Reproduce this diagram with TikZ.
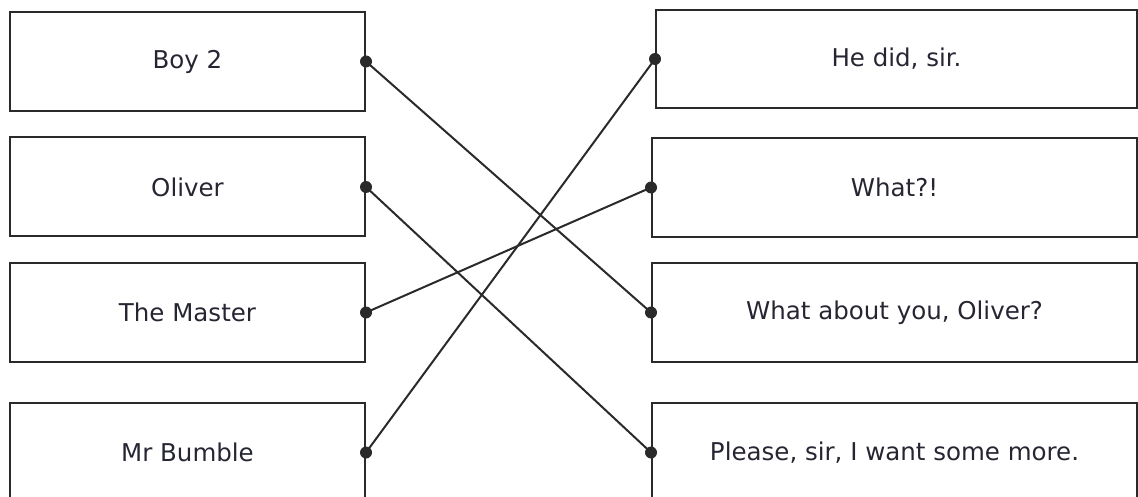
\documentclass[tikz,border=0pt]{standalone}
\usepackage{fontspec}
\setmainfont{DejaVu Sans}
\definecolor{ink}{HTML}{2A2A2A}
\definecolor{words}{HTML}{262633}
\tikzset{
  card/.style={draw=ink,line width=2pt,rectangle,minimum height=99pt,
    text=words,font=\fontsize{24.5}{29}\selectfont,inner sep=0pt},
  link/.style={draw=ink,line width=2pt},
  dot/.style={fill=ink,circle,inner sep=0pt,minimum size=12pt}
}
\begin{document}
\begin{tikzpicture}[x=1pt,y=-1pt]
\useasboundingbox (0,0) rectangle (1138,497);
\clip (0,0) rectangle (1138,497);
% speakers
\node[card,minimum width=355pt] (boy) at (187.5,61.5) {Boy 2};
\node[card,minimum width=355pt] (oliver) at (187.5,187) {Oliver};
\node[card,minimum width=355pt] (master) at (187.5,312.5) {The Master};
\node[card,minimum width=355pt] (bumble) at (187.5,452.5) {Mr Bumble};
% lines
\node[card,minimum width=481pt,minimum height=98pt] (did) at (896.5,59) {He did, sir.};
\node[card,minimum width=485pt] (what) at (894.5,187.5) {What?!};
\node[card,minimum width=485pt] (about) at (894.5,312.5) {What about you, Oliver?};
\node[card,minimum width=485pt] (please) at (894.5,452.5) {Please, sir, I want some more.};
% matching
\draw[link] (boy.east) -- (about.west);
\draw[link] (oliver.east) -- (please.west);
\draw[link] (master.east) -- (what.west);
\draw[link] (bumble.east) -- (did.west);
\foreach \n in {boy,oliver,master,bumble}
  \node[dot] at (\n.east) {};
\foreach \n in {did,what,about,please}
  \node[dot] at (\n.west) {};
\end{tikzpicture}
\end{document}
